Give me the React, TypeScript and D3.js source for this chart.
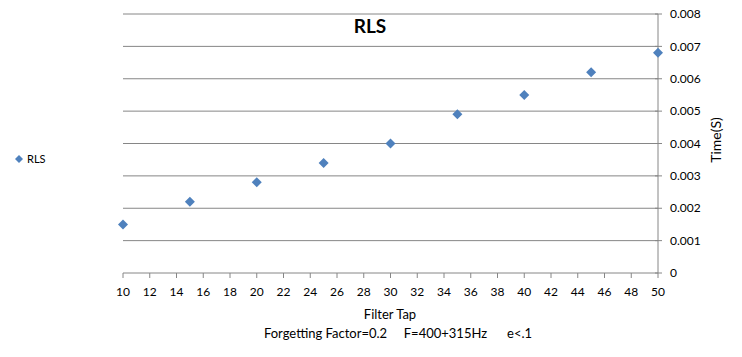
import React from "react";
import * as d3 from "d3";

const filterTaps = [10, 15, 20, 25, 30, 35, 40, 45, 50];
const times = [0.0015, 0.0022, 0.0028, 0.0034, 0.004, 0.0049, 0.0055, 0.0062, 0.0068];
const xTicks = d3.range(10, 51, 2);
const yTicks = [0, 0.001, 0.002, 0.003, 0.004, 0.005, 0.006, 0.007, 0.008];
const seriesName = "RLS";
const titleText = "RLS";
const xTitle = "Filter Tap";
const yTitle = "Time(S)";
const subtitle = "Forgetting Factor=0.2     F=400+315Hz      e<.1";

const W = 742, H = 357;
const left = 123, right = 658, top = 14, bottom = 273;
const font = "Lato, 'Open Sans', sans-serif";
const gridColor = "#868686";
const markColor = "#4F81BD";

export default function App() {
  const x = d3.scaleLinear().domain([10, 50]).range([left, right]);
  const y = d3.scaleLinear().domain([0, 0.008]).range([bottom, top]);
  const diamond = (cx: number, cy: number, r: number) =>
    `M${cx},${cy - r}L${cx + r},${cy}L${cx},${cy + r}L${cx - r},${cy}Z`;
  return (
    <svg width={W} height={H} style={{ position: "absolute", left: 0, top: 0, background: "#fff" }}>
      <rect width={W} height={H} fill="#fff" />
      {yTicks.map((t) => (
        <g key={t}>
          {t > 0 && (
            <line x1={left} x2={right} y1={y(t)} y2={y(t)} stroke={gridColor} strokeWidth={1} />
          )}
          <line x1={right - 3} x2={right + 4} y1={y(t)} y2={y(t)} stroke={gridColor} />
          <text x={right + 12} y={y(t)} dy="0.35em" fontFamily={font} fontSize={12} fill="#000">
            {t === 0 ? "0" : d3.format(".3f")(t)}
          </text>
        </g>
      ))}
      <line x1={left} x2={right} y1={bottom} y2={bottom} stroke={gridColor} />
      <line x1={right} x2={right} y1={top} y2={bottom} stroke={gridColor} />
      {xTicks.map((t) => (
        <g key={t}>
          <line x1={x(t)} x2={x(t)} y1={bottom} y2={bottom + 5} stroke={gridColor} />
          <text x={x(t)} y={bottom + 23} textAnchor="middle" fontFamily={font} fontSize={12} fill="#000">
            {t}
          </text>
        </g>
      ))}
      {filterTaps.map((d, i) => (
        <path key={d} d={diamond(x(d), y(times[i]), 5)} fill={markColor} />
      ))}
      <text x={370} y={33} textAnchor="middle" fontFamily={font} fontSize={19} fontWeight="bold" fill="#000">
        {titleText}
      </text>
      <text x={390} y={319} textAnchor="middle" fontFamily={font} fontSize={13} fill="#000">
        {xTitle}
      </text>
      <text x={398} y={338} textAnchor="middle" fontFamily={font} fontSize={13} fill="#000" style={{ whiteSpace: "pre" }}>
        {subtitle}
      </text>
      <text
        transform={`translate(721,140) rotate(-90)`}
        textAnchor="middle"
        fontFamily={font}
        fontSize={14}
        fill="#000"
      >
        {yTitle}
      </text>
      <path d={diamond(19, 159, 4)} fill={markColor} />
      <text x={27} y={159} dy="0.35em" fontFamily={font} fontSize={11} fill="#000">
        {seriesName}
      </text>
    </svg>
  );
}
